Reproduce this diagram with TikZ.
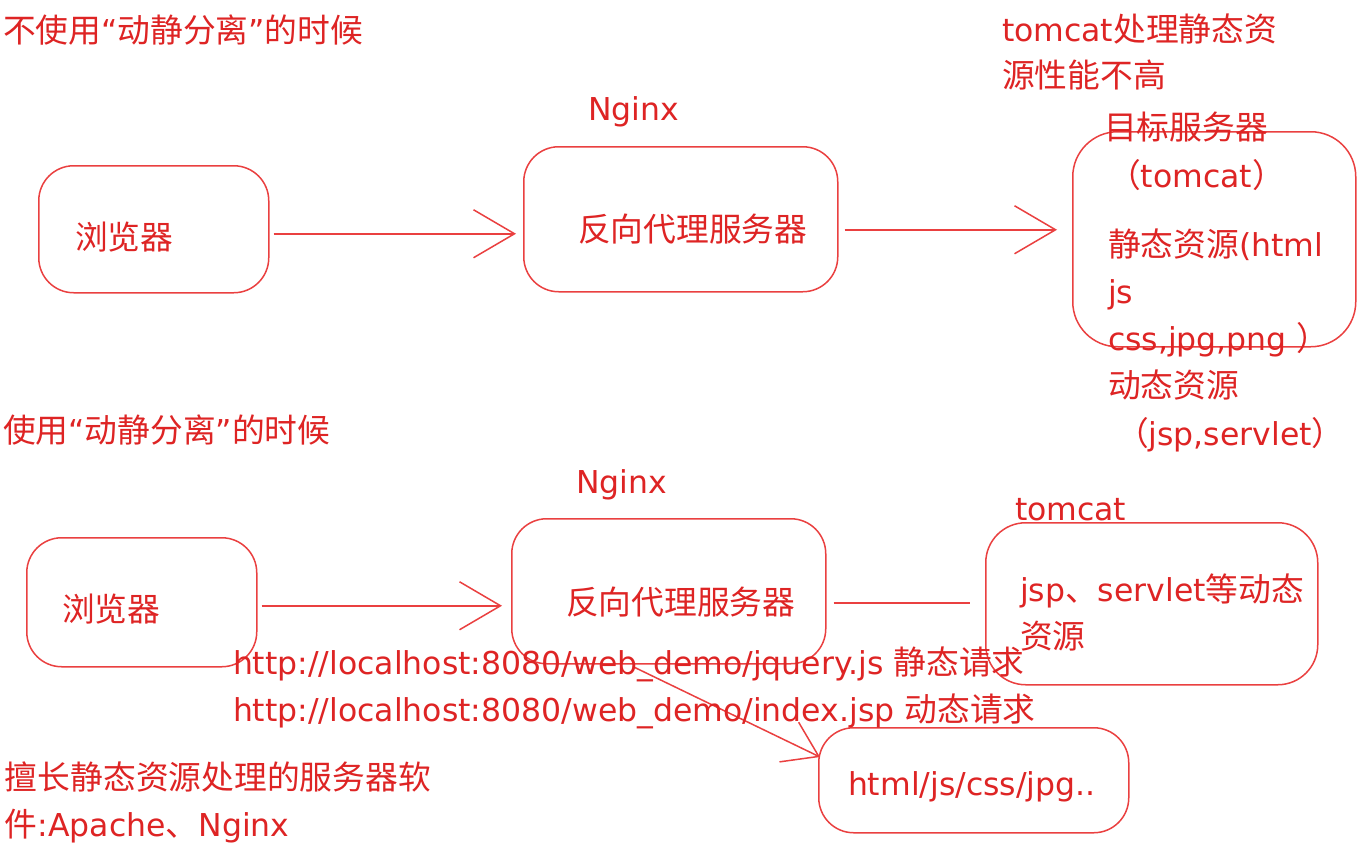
\documentclass[tikz,border=0pt]{standalone}
\usepackage{fontspec}
\setmainfont{DejaVu Sans}
\newfontfamily\zhfont[Scale=1.04]{Noto Sans CJK SC}
\newcommand\zh[1]{{\zhfont #1}}
\usetikzlibrary{arrows.meta,calc}
\definecolor{txtred}{RGB}{222,36,36}
\definecolor{linered}{RGB}{234,64,64}
\begin{document}
\begin{tikzpicture}[x=1pt,y=-1pt,
  txt/.style={anchor=base west,inner sep=0pt,outer sep=0pt,text=txtred,font=\fontsize{31.5}{47}\selectfont},
  rbox/.style={draw=linered,line width=1.5pt,rounded corners=#1,inner sep=0pt,anchor=north west},
  rbox/.default=35pt,
  lnk/.style={draw=linered,line width=1.5pt},
  arr/.style={lnk,-{Straight Barb[length=41pt,width=48pt,line width=1.5pt]}},
  arrs/.style={lnk,-{Straight Barb[length=33pt,width=44pt,line width=1.5pt]}}]
\fill[white] (0,0) rectangle (1362,844);
\useasboundingbox (0,0) rectangle (1362,844);

% boxes
\node[rbox,minimum width=230pt,minimum height=127pt] (b1) at (38,165) {};
\node[rbox,minimum width=314pt,minimum height=145pt] (p1) at (523,146) {};
\node[rbox=45pt,minimum width=283pt,minimum height=215pt] (t1) at (1072,131) {};
\node[rbox,minimum width=230pt,minimum height=129pt] (b2) at (26,537) {};
\node[rbox,minimum width=314pt,minimum height=145pt] (p2) at (511,518) {};
\node[rbox=40pt,minimum width=332pt,minimum height=162pt] (t2) at (985,522) {};
\node[rbox,minimum width=310pt,minimum height=105pt] (h) at (818,727) {};

% connectors
\draw[arr] ($(b1.east)+(4,4.5)$) -- ($(p1.west)+(-7,14.5)$);
\draw[arr] ($(p1.east)+(6,10.5)$) -- ($(t1.west)+(-15,-9.5)$);
\draw[arr] ($(b2.east)+(4,3.5)$) -- ($(p2.west)+(-9,14.5)$);
\draw[lnk] ($(p2.east)+(7,11.5)$) -- ($(t2.west)+(-15,-1)$);
\draw[arrs] ($(p2.south)+(-36,2)$) -- ($(h.north west)+(2,30)$);

% texts
\node[txt] (T1) at (3,42) {\zh{不使用}“\zh{动静分离}”\zh{的时候}};
\node[txt] (T2) at (1002,41) {tomcat\zh{处理静态资}};
\node[txt] (T3) at (1002,87) {\zh{源性能不高}};
\node[txt] (N1) at (588,120) {Nginx};
\node[txt] (B1) at (75,249) {\zh{浏览器}};
\node[txt] (P1) at (578,241) {\zh{反向代理服务器}};
\node[txt] (S1) at (1104,139) {\zh{目标服务器}};
\node[txt] (S2) at (1108,187) {\zh{（}tomcat\zh{）}};
\node[txt] (S3) at (1108,256) {\zh{静态资源}(html};
\node[txt] (S4) at (1108,303) {js};
\node[txt] (S5) at (1108,350) {css,jpg,png \zh{）}};
\node[txt] (S6) at (1108,397) {\zh{动态资源}};
\node[txt] (S7) at (1116,445) {\zh{（}jsp,servlet\zh{）}};
\node[txt] (T4) at (3,442) {\zh{使用}“\zh{动静分离}”\zh{的时候}};
\node[txt] (N2) at (576,493) {Nginx};
\node[txt] (M1) at (1015,520) {tomcat};
\node[txt] (M2) at (1020,601) {jsp\zh{、}servlet\zh{等动态}};
\node[txt] (M3) at (1020,648) {\zh{资源}};
\node[txt] (B2) at (62,621) {\zh{浏览器}};
\node[txt] (P2) at (566,614) {\zh{反向代理服务器}};
\node[txt] (U1) at (233,674) {http://localhost:8080/web\_demo/jquery.js \zh{静态请求}};
\node[txt] (U2) at (233,721) {http://localhost:8080/web\_demo/index.jsp \zh{动态请求}};
\node[txt] (H1) at (848,795) {html/js/css/jpg..};
\node[txt] (W1) at (5,789) {\zh{擅长静态资源处理的服务器软}};
\node[txt] (W2) at (5,836) {\zh{件}:Apache\zh{、}Nginx};
\end{tikzpicture}
\end{document}
